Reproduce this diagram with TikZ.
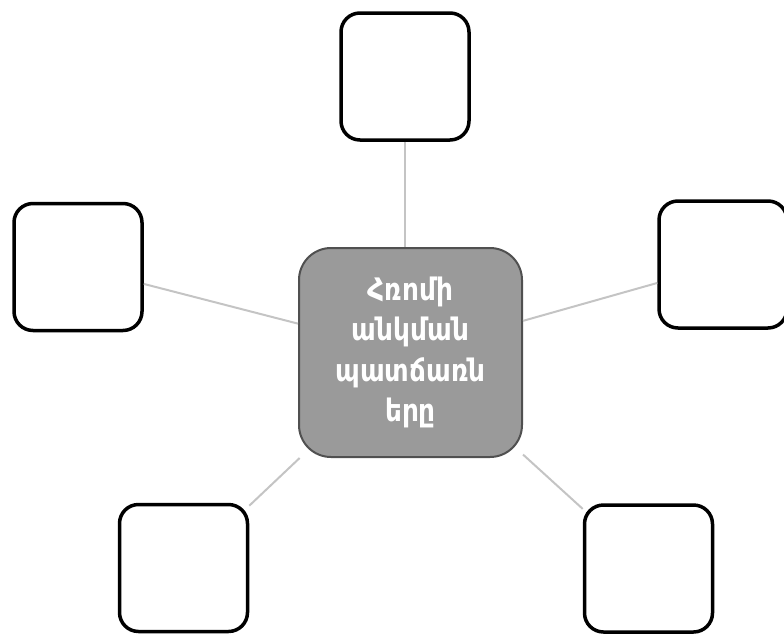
\documentclass[tikz,border=0pt]{standalone}
\usepackage{fontspec}
\newfontfamily\armfont[FakeStretch=0.85]{DejaVu Sans}
\definecolor{linkgray}{HTML}{C4C4C4}
\definecolor{hubfill}{HTML}{9A9A9A}
\definecolor{hubline}{HTML}{505050}
\tikzset{
  leaf/.style={draw=black, line width=3.5pt, fill=white, rounded corners=19pt,
    minimum width=128pt, minimum height=127pt, inner sep=0pt},
  hub/.style={draw=hubline, line width=2pt, fill=hubfill, rounded corners=32pt,
    minimum width=223pt, minimum height=209pt, inner sep=0pt, align=center,
    text=white, font=\armfont\bfseries\fontsize{31}{40.5}\selectfont},
  link/.style={draw=linkgray, line width=2pt}
}
\begin{document}
\begin{tikzpicture}[x=1pt,y=-1pt]
\useasboundingbox (0,0) rectangle (784,635);
\node[hub] (c) at (410.5,352.5) {Հռոմի\\անկման\\պատճառն\\երը};
\node[leaf] (t) at (405,76.5) {};
\node[leaf] (l) at (78,267) {};
\node[leaf] (r) at (723,264.5) {};
\node[leaf] (bl) at (183.5,568) {};
\node[leaf] (br) at (648.5,568.5) {};
\draw[link] (t) -- (t |- c.north);
\draw[link] (c) -- (l);
\draw[link] (c) -- (r);
\draw[link] (c) -- (bl);
\draw[link] (c) -- (br);
\end{tikzpicture}
\end{document}
